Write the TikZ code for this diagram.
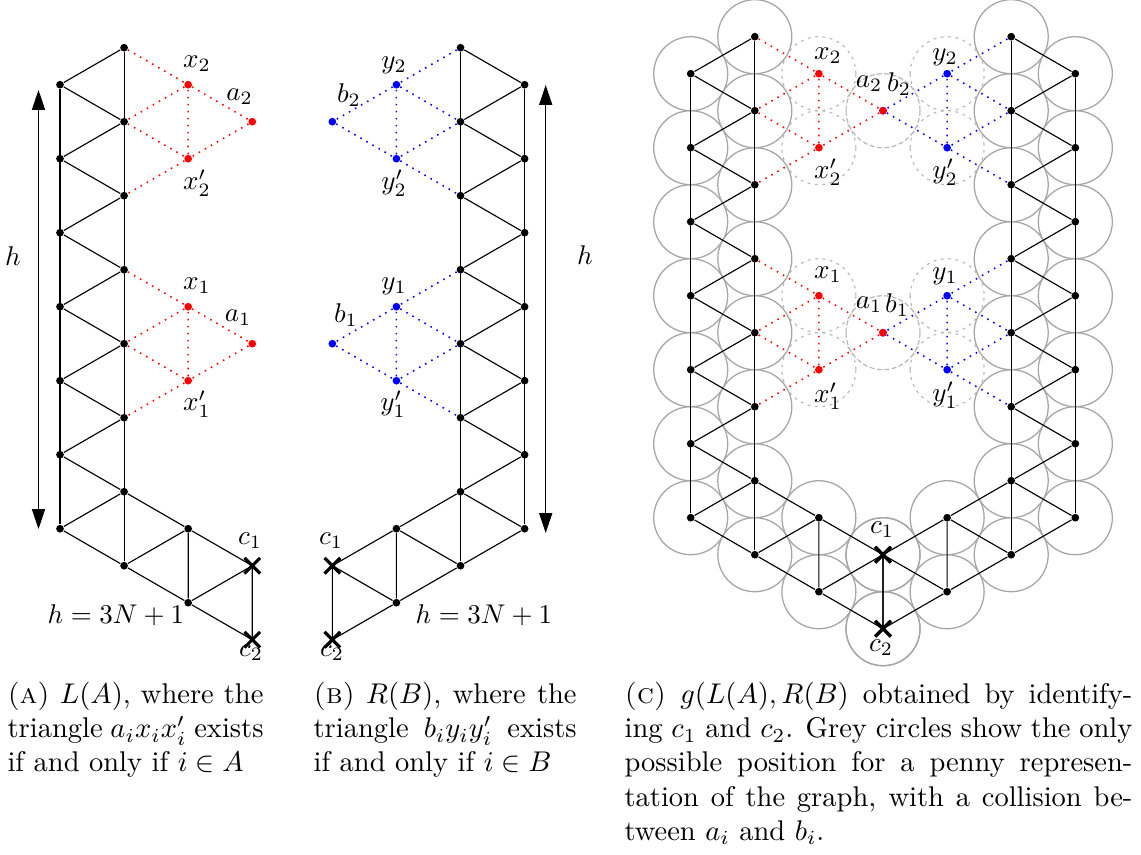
\documentclass[tikz,border=0pt]{standalone}
\usetikzlibrary{arrows.meta,shapes.misc}
\pgfdeclarelayer{bg}
\pgfsetlayers{bg,main}
\tikzset{
  vdot/.style={circle, fill=#1, inner sep=0pt, minimum size=2.7pt},
  vdot/.default=black,
  lat/.style={line width=0.4pt, draw=black},
  gad/.style={line width=0.55pt, draw=#1, dash pattern=on 0.55pt off 1.9pt},
  xmark/.style={cross out, draw=black, line width=1.1pt, minimum size=4.4pt, inner sep=0pt},
  penny/.style={draw=black!35, line width=0.45pt},
  ghost/.style={draw=black!28, line width=0.4pt, dash pattern=on 1pt off 1.6pt},
  harrow/.style={{Triangle[length=7pt,width=4.6pt]}-{Triangle[length=7pt,width=4.6pt]}, line width=0.4pt},
  lbl/.style={inner sep=0pt, scale=0.95},
  captext/.style={inner sep=0pt, anchor=north west, align=left},
}
\newcommand\Ladder[1]{%
  \foreach \k in {0,...,6}{\node[vdot] (#1L\k) at (0,{84.7+74*\k}) {};}
  \foreach \k in {0,...,7}{\node[vdot] (#1R\k) at (64.09,{47.7+74*\k}) {};}
  \node[vdot] (#1P) at (128.18,528.7) {};
  \node[vdot] (#1Q) at (128.18,602.7) {};
  \node[xmark] (#1c1) at (192.27,565.7) {};
  \node[xmark] (#1c2) at (192.27,639.7) {};
  \draw[lat] (#1L0) -- (#1L6);
  \draw[lat] (#1R0) -- (#1R7);
  \foreach \k [evaluate=\k as \j using int(\k+1)] in {0,...,6}{\draw[lat] (#1L\k) -- (#1R\k) (#1L\k) -- (#1R\j);}
  \draw[lat] (#1R6) -- (#1P) -- (#1R7) -- (#1Q) -- (#1P) -- (#1c1.center) -- (#1Q) -- (#1c2.center) -- (#1c1.center);
}
\newcommand\Gadget[6]{%
  \node[vdot=#6] (#1x#2) at (128.18,{84.7+74*#3}) {};
  \node[vdot=#6] (#1a#2) at (192.27,{121.7+74*#3}) {};
  \node[vdot=#6] (#1xp#2) at (128.18,{158.7+74*#3}) {};
  \draw[gad=#6] (#1R#3) -- (#1x#2) -- (#1R#4) -- (#1xp#2) -- (#1R#5);
  \draw[gad=#6] (#1x#2) -- (#1a#2) -- (#1xp#2) -- (#1x#2);
}
\newcommand\Pennies[1]{%
  \begin{pgfonlayer}{bg}
  \foreach \n in {L0,L1,L2,L3,L4,L5,L6,R0,R1,R2,R3,R4,R5,R6,R7,P,Q,c1,c2}{\draw[penny] (#1\n) circle[radius=37];}
  \foreach \n in {x1,a1,xp1,x2,a2,xp2}{\draw[ghost] (#1\n) circle[radius=37];}
  \end{pgfonlayer}}
\begin{document}
\begin{tikzpicture}[x=0.35088pt, y=-0.35088pt]
\useasboundingbox (0,0) rectangle (1141,854);
% (a)
\begin{scope}[shift={(60,0)}]
  \Ladder{A}
  \Gadget{A}{2}{0}{1}{2}{red}
  \Gadget{A}{1}{3}{4}{5}{red}
\end{scope}
% (b)
\begin{scope}[shift={(524.6,0)}, xscale=-1]
  \Ladder{B}
  \Gadget{B}{2}{0}{1}{2}{blue}
  \Gadget{B}{1}{3}{4}{5}{blue}
\end{scope}
% (c) right half
\begin{scope}[shift={(1075.3,-11)}, xscale=-1]
  \Ladder{D}
  \Gadget{D}{2}{0}{1}{2}{blue}
  \Gadget{D}{1}{3}{4}{5}{blue}
  \Pennies{D}
\end{scope}
% (c) left half
\begin{scope}[shift={(690.7,-11)}]
  \Ladder{C}
  \Gadget{C}{2}{0}{1}{2}{red}
  \Gadget{C}{1}{3}{4}{5}{red}
  \Pennies{C}
\end{scope}
% arrows
\coordinate (hAt) at (38.5,90);
\coordinate (hAb) at (38.5,529);
\draw[harrow] (hAb) -- (hAt);
\coordinate (hBt) at (545.7,85);
\coordinate (hBb) at (545.7,533);
\draw[harrow] (hBb) -- (hBt);
% labels (a)
\node[lbl] (lxA2) at (197,64) {$x_2$};
\node[lbl] (laA2) at (239.5,97) {$a_2$};
\node[lbl] (lxpA2) at (197,183) {$x'_2$};
\node[lbl] (lxA1) at (197,285.5) {$x_1$};
\node[lbl] (laA1) at (238,318) {$a_1$};
\node[lbl] (lxpA1) at (197,404) {$x'_1$};
\node[lbl] (lcA1) at (250,541) {$c_1$};
\node[lbl] (lcA2) at (251,653) {$c_2$};
\node[lbl] (lhA) at (13,256) {$h$};
\node[lbl] (leqA) at (116,615) {$h=3N+1$};
% labels (b)
\node[lbl] (lyB2) at (394,65) {$y_2$};
\node[lbl] (lbB2) at (349,95) {$b_2$};
\node[lbl] (lypB2) at (394,183) {$y'_2$};
\node[lbl] (lyB1) at (394,286.5) {$y_1$};
\node[lbl] (lbB1) at (346,315) {$b_1$};
\node[lbl] (lypB1) at (393,404) {$y'_1$};
\node[lbl] (lcB1) at (331,540.5) {$c_1$};
\node[lbl] (lcB2) at (332,653) {$c_2$};
\node[lbl] (lhB) at (585,255) {$h$};
\node[lbl] (leqB) at (484,615) {$h=3N+1$};
% labels (c)
\node[lbl] (lxC2) at (828,56) {$x_2$};
\node[lbl] (laC2) at (869,84) {$a_2$};
\node[lbl] (lbC2) at (899,84) {$b_2$};
\node[lbl] (lyC2) at (945,57) {$y_2$};
\node[lbl] (lxpC2) at (828,172) {$x'_2$};
\node[lbl] (lypC2) at (945,172) {$y'_2$};
\node[lbl] (lxC1) at (828,275) {$x_1$};
\node[lbl] (laC1) at (869,305) {$a_1$};
\node[lbl] (lbC1) at (897,305) {$b_1$};
\node[lbl] (lyC1) at (945,276) {$y_1$};
\node[lbl] (lxpC1) at (828,396) {$x'_1$};
\node[lbl] (lypC1) at (945,395) {$y'_1$};
\node[lbl] (lcC1) at (882,530) {$c_1$};
\node[lbl] (lcC2) at (881,648) {$c_2$};
% captions
\node[captext] (capA) at (7,681.6) {%
  \hbox to 89.8pt{\textsc{(a)} $L(A)$, where the}\\
  \hbox to 89.8pt{triangle $a_ix_ix'_i$ exists}\\
  if and only if $i\in A$};
\node[captext] (capB) at (313,681.6) {%
  \hbox to 92.3pt{\textsc{(b)} $R(B)$, where the}\\
  \hbox to 92.3pt{triangle $b_iy_iy'_i$ exists}\\
  if and only if $i\in B$};
\node[captext] (capC) at (624,681.6) {%
  \hbox to 178.2pt{\textsc{(c)} $g(L(A),R(B)$ obtained by identify-}\\
  \hbox to 178.2pt{ing $c_1$ and $c_2$. Grey circles show the only}\\
  \hbox to 178.2pt{possible position for a penny represen-}\\
  \hbox to 178.2pt{tation of the graph, with a collision be-}\\
  tween $a_i$ and $b_i$.};
\end{tikzpicture}
\end{document}
